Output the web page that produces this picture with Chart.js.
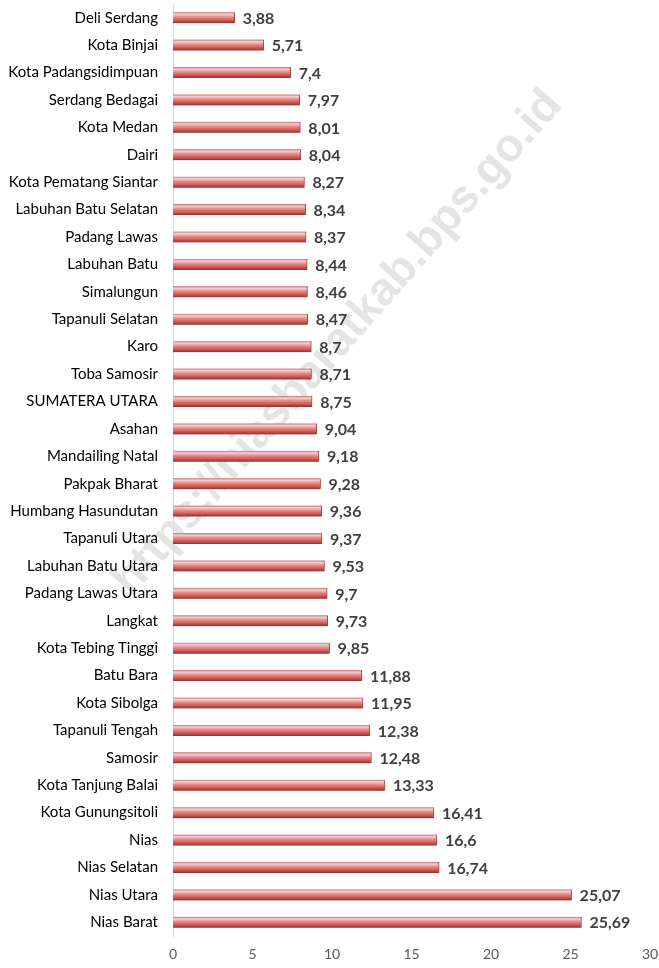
<!DOCTYPE html>
<html>
<head>
<meta charset="utf-8">
<script src="https://cdn.jsdelivr.net/npm/chart.js@4"></script>
<style>
    html, body { margin: 0; padding: 0; background: #fff; }
    #wrap { width: 659px; height: 968px; }
</style>
</head>
<body>
<div id="wrap"><canvas id="barChart"></canvas></div>
<script>
const regions = [
    'Deli Serdang', 'Kota Binjai', 'Kota Padangsidimpuan', 'Serdang Bedagai', 'Kota Medan',
    'Dairi', 'Kota Pematang Siantar', 'Labuhan Batu Selatan', 'Padang Lawas', 'Labuhan Batu',
    'Simalungun', 'Tapanuli Selatan', 'Karo', 'Toba Samosir', 'SUMATERA UTARA',
    'Asahan', 'Mandailing Natal', 'Pakpak Bharat', 'Humbang Hasundutan', 'Tapanuli Utara',
    'Labuhan Batu Utara', 'Padang Lawas Utara', 'Langkat', 'Kota Tebing Tinggi', 'Batu Bara',
    'Kota Sibolga', 'Tapanuli Tengah', 'Samosir', 'Kota Tanjung Balai', 'Kota Gunungsitoli',
    'Nias', 'Nias Selatan', 'Nias Utara', 'Nias Barat'
];

const values = [
    3.88, 5.71, 7.4, 7.97, 8.01,
    8.04, 8.27, 8.34, 8.37, 8.44,
    8.46, 8.47, 8.7, 8.71, 8.75,
    9.04, 9.18, 9.28, 9.36, 9.37,
    9.53, 9.7, 9.73, 9.85, 11.88,
    11.95, 12.38, 12.48, 13.33, 16.41,
    16.6, 16.74, 25.07, 25.69
];

const xTicks = [0, 5, 10, 15, 20, 25, 30];

const watermarkText = 'https://niasbaratkab.bps.go.id';

const fmt = v => v.toString().replace('.', ',');

// light grey watermark, drawn first so labels and bars sit on top
const watermark = {
    id: 'watermark',
    beforeDraw(chart) {
        const ctx = chart.ctx;
        ctx.save();
        ctx.translate(338, 343);
        ctx.rotate(-48.7 * Math.PI / 180);
        ctx.font = 'bold 46px "Liberation Sans", Arial, sans-serif';
        ctx.fillStyle = '#e4e4e4';
        ctx.textAlign = 'center';
        ctx.textBaseline = 'middle';
        ctx.fillText(watermarkText, 0, 0);
        ctx.restore();
    }
};

// value labels at the end of each bar
const valueLabels = {
    id: 'valueLabels',
    afterDatasetsDraw(chart) {
        const ctx = chart.ctx;
        const meta = chart.getDatasetMeta(0);
        ctx.save();
        ctx.font = 'bold 16px Lato, "Open Sans", sans-serif';
        ctx.fillStyle = '#404040';
        ctx.textAlign = 'left';
        ctx.textBaseline = 'middle';
        meta.data.forEach((bar, i) => {
            ctx.fillText(fmt(values[i]), bar.x + 8, bar.y + 1);
        });
        ctx.restore();
    }
};

function barFill(context) {
    const chart = context.chart;
    const yScale = chart.scales.y;
    if (!yScale || context.dataIndex === undefined) return '#c0504d';
    const y = yScale.getPixelForValue(context.dataIndex);
    if (!isFinite(y)) return '#c0504d';
    const g = chart.ctx.createLinearGradient(0, y - 5.5, 0, y + 5.5);
    g.addColorStop(0, '#c96a68');
    g.addColorStop(0.18, '#f5d0cf');
    g.addColorStop(0.45, '#e58986');
    g.addColorStop(0.75, '#cc5653');
    g.addColorStop(1, '#8e2e2c');
    return g;
}

const ctx = document.getElementById('barChart').getContext('2d');

new Chart(ctx, {
    type: 'bar',
    data: {
        labels: regions,
        datasets: [{
            data: values,
            backgroundColor: barFill,
            borderColor: '#a84340',
            borderWidth: { top: 0, bottom: 0, left: 0, right: 1 },
            borderSkipped: false,
            barThickness: 11
        }]
    },
    options: {
        indexAxis: 'y',
        responsive: true,
        maintainAspectRatio: false,
        animation: false,
        layout: { padding: { top: 4, right: 9, left: 0, bottom: 0 } },
        plugins: {
            legend: { display: false },
            tooltip: { enabled: false }
        },
        scales: {
            x: {
                min: 0,
                max: 30,
                afterBuildTicks: axis => { axis.ticks = xTicks.map(v => ({ value: v })); },
                grid: { display: false, drawTicks: false },
                border: { display: false },
                ticks: {
                    color: '#595959',
                    font: { family: 'Lato, "Open Sans", sans-serif', size: 14 },
                    padding: 10,
                    maxRotation: 0
                },
                afterFit: axis => {
                    axis.height = 32;
                    axis.paddingLeft = 0;
                    axis.paddingRight = 0;
                }
            },
            y: {
                grid: { display: false },
                border: { display: true, color: '#d9d9d9', width: 1 },
                ticks: {
                    color: '#000000',
                    font: { family: 'Lato, "Open Sans", sans-serif', size: 15 },
                    padding: 7,
                    autoSkip: false
                },
                afterFit: axis => {
                    axis.width = 173;
                    axis.paddingTop = 0;
                    axis.paddingBottom = 0;
                }
            }
        }
    },
    plugins: [watermark, valueLabels]
});
</script>
</body>
</html>
